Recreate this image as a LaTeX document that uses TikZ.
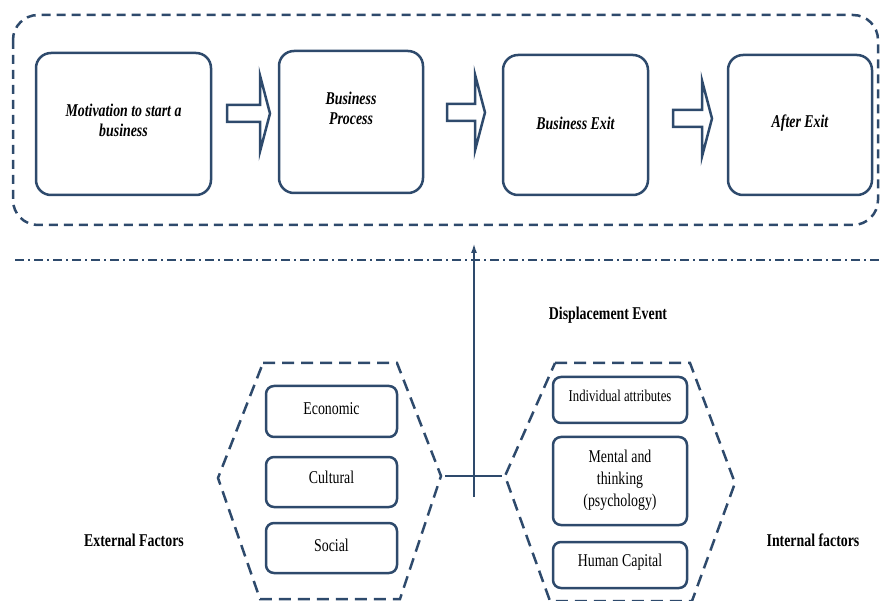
\documentclass[tikz,border=0pt]{standalone}
\usepackage{fontspec}
\setmainfont{Liberation Serif}[FakeStretch=0.77]
\usetikzlibrary{arrows.meta}
\definecolor{navy}{RGB}{46,74,108}
\tikzset{
  stage/.style={draw=navy, line width=2.5pt, rounded corners=15pt},
  factor/.style={draw=navy, line width=2.5pt, rounded corners=8pt},
  stagetext/.style={align=center, font=\fontsize{18}{20}\selectfont\bfseries\itshape},
  factortext/.style={align=center, font=\fontsize{18}{22}\selectfont},
  heading/.style={font=\fontsize{18}{20}\selectfont\bfseries},
  hexline/.style={draw=navy, line width=2.5pt, dash pattern=on 12pt off 7pt},
  fatarrow/.style={draw=navy, line width=2.5pt, fill=white},
  link/.style={draw=navy, line width=2pt}
}
\begin{document}
\begin{tikzpicture}[x=1pt, y=-1pt]
\useasboundingbox (0,0) rectangle (881,601);

% stages of the business
\draw[draw=navy, line width=2.5pt, rounded corners=25pt, dash pattern=on 9pt off 6pt]
  (13,15) rectangle (878,225);

\node[stage, minimum width=175pt, minimum height=142pt] (motiv) at (123.5,124) {};
\node[stagetext] (motivtxt) at ([yshift=4pt]motiv.center) {Motivation to start a\\business};

\node[stage, minimum width=144pt, minimum height=142pt] (proc) at (351,122) {};
\node[stagetext] (proctxt) at ([yshift=14pt]proc.center) {Business\\Process};

\node[stage, minimum width=145pt, minimum height=140pt] (exit) at (575.5,125) {};
\node[stagetext] (exittxt) at ([yshift=2pt]exit.center) {Business Exit};

\node[stage, minimum width=144pt, minimum height=140pt] (after) at (800,125) {};
\node[stagetext] (aftertxt) at ([yshift=2pt]after.center) {After Exit};

% block arrows between stages: x start, x tip, y
\foreach \xa/\xb/\yc in {227/270/113.5, 447/485/112.5, 673/712/118.5}
  \draw[fatarrow] (\xa,\yc-8.5) -- (\xb-10,\yc-8.5) -- (\xb-10,\yc-38) -- (\xb,\yc)
    -- (\xb-10,\yc+38) -- (\xb-10,\yc+8.5) -- (\xa,\yc+8.5) -- cycle;

% separator
\draw[draw=navy, line width=2.5pt, dash pattern=on 9pt off 4pt on 2pt off 4pt]
  (15,260) -- (881,260);

% external factors
\draw[hexline] (263,363) -- (397,363) -- (441,476) coordinate (extR)
  -- (400,599) -- (260,599) -- (218,478) -- cycle;
\node[factor, minimum width=131pt, minimum height=51pt] (econ) at (331.5,411.5) {};
\node[factortext] (econtxt) at ([yshift=3pt]econ.center) {Economic};
\node[factor, minimum width=131pt, minimum height=50pt] (cult) at (331.5,482) {};
\node[factortext] (culttxt) at ([yshift=5pt]cult.center) {Cultural};
\node[factor, minimum width=131pt, minimum height=50pt] (soc) at (331.5,548) {};
\node[factortext] (soctxt) at ([yshift=3pt]soc.center) {Social};
\node[heading] (ext) at (134,540) {External Factors};

% internal factors
\draw[hexline] (555,363) -- (690,363) -- (735,483)
  -- (692,601) -- (550,601) -- (505,476) coordinate (intL) -- cycle;
\node[factor, minimum width=134pt, minimum height=46pt] (indiv) at (620,400) {};
\node[factortext, font=\fontsize{16.5}{20}\selectfont] (indivtxt) at ([yshift=4pt]indiv.center) {Individual attributes};
\node[factor, minimum width=134pt, minimum height=88pt] (mental) at (620,481) {};
\node[factortext] (mentaltxt) at ([yshift=1pt]mental.center) {Mental and\\thinking\\(psychology)};
\node[factor, minimum width=134pt, minimum height=46pt] (human) at (620,565) {};
\node[factortext] (humantxt) at ([yshift=3pt]human.center) {Human Capital};
\node[heading] (int) at (813,540) {Internal factors};

% displacement event
\draw[link, shorten <=4pt, shorten >=3pt] (extR) -- (intL);
\coordinate (hub) at (474,497);
\coordinate (gate) at (474,243);
\draw[link, -{Latex[length=10pt, width=6pt]}] (hub) -- (gate);
\node[heading] (disp) at (608,315) {Displacement Event};
\end{tikzpicture}
\end{document}
